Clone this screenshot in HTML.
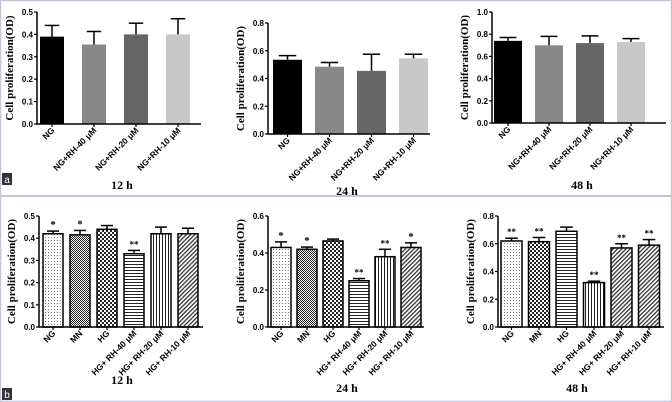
<!DOCTYPE html>
<html><head><meta charset="utf-8"><style>
html,body{margin:0;padding:0;background:#fff;}
svg{display:block;font-family:"Liberation Serif",serif;}
</style></head><body>
<svg id="fig" width="672" height="402" viewBox="0 0 672 402" xmlns="http://www.w3.org/2000/svg">
<defs>
<pattern id="p-dots" width="3" height="3" patternUnits="userSpaceOnUse"><rect width="3" height="3" fill="#fff"/><rect width="1" height="1" fill="#777"/></pattern>
<pattern id="p-check" width="2" height="2" patternUnits="userSpaceOnUse"><rect width="2" height="2" fill="#fff"/><rect width="1" height="1" fill="#222"/><rect x="1" y="1" width="1" height="1" fill="#222"/></pattern>
<pattern id="p-bigcheck" width="4" height="4" patternUnits="userSpaceOnUse"><rect width="4" height="4" fill="#fff"/><rect width="2" height="2" fill="#222"/><rect x="2" y="2" width="2" height="2" fill="#222"/></pattern>
<pattern id="p-hline" width="4" height="3" patternUnits="userSpaceOnUse"><rect width="4" height="3" fill="#fff"/><rect width="4" height="1" fill="#222"/></pattern>
<pattern id="p-vline" width="3" height="4" patternUnits="userSpaceOnUse"><rect width="3" height="4" fill="#fff"/><rect width="1" height="4" fill="#222"/></pattern>
<pattern id="p-diag" width="3" height="3" patternUnits="userSpaceOnUse" patternTransform="rotate(45)"><rect width="3" height="3" fill="#fff"/><rect width="1.3" height="3" fill="#333"/></pattern>
</defs>
<rect x="0.5" y="0.5" width="671" height="401" fill="none" stroke="#c4c6d6" stroke-width="1.5"/>
<line x1="0" y1="196" x2="672" y2="196" stroke="#c4c6d6" stroke-width="2"/>
<g><rect x="2" y="173" width="10" height="12" fill="#333"/><text x="7" y="183" fill="#fff" font-family="Liberation Sans,sans-serif" font-size="10" text-anchor="middle">a</text></g>
<g><rect x="2" y="388" width="10" height="12" fill="#333"/><text x="7" y="398" fill="#fff" font-family="Liberation Sans,sans-serif" font-size="10" text-anchor="middle">b</text></g>
</svg>
<script>
const catsA = ["NG","NG+RH-40 μM","NG+RH-20 μM","NG+RH-10 μM"];
const catsB = ["NG","MN","HG","HG+ RH-40 μM","HG+ RH-20 μM","HG+ RH-10 μM"];
const a12Vals = [0.39,0.355,0.40,0.40];
const a12Err = [0.05,0.058,0.05,0.07];
const a24Vals = [0.535,0.485,0.455,0.545];
const a24Err = [0.03,0.03,0.12,0.03];
const a48Vals = [0.74,0.70,0.72,0.73];
const a48Err = [0.03,0.08,0.065,0.03];
const b12Vals = [0.42,0.415,0.44,0.33,0.42,0.42];
const b12Err = [0.012,0.02,0.017,0.015,0.03,0.025];
const b12Stars = ["*","*","","**","",""];
const b24Vals = [0.43,0.42,0.465,0.25,0.38,0.43];
const b24Err = [0.03,0.012,0.01,0.012,0.04,0.025];
const b24Stars = ["*","*","","**","**","*"];
const b48Vals = [0.62,0.615,0.69,0.32,0.57,0.59];
const b48Err = [0.02,0.03,0.03,0.01,0.03,0.04];
const b48Stars = ["**","**","","**","**","**"];
const ticks05 = [0,0.1,0.2,0.3,0.4,0.5];
const ticks08 = [0,0.2,0.4,0.6,0.8];
const ticks10 = [0,0.2,0.4,0.6,0.8,1.0];
const ticks06 = [0,0.2,0.4,0.6];

const fillsA = ["#000","#888","#666","#c8c8c8"];
const fillsB12 = ["url(#p-dots)","url(#p-check)","url(#p-bigcheck)","url(#p-hline)","url(#p-vline)","url(#p-diag)"];
const fillsB48 = ["url(#p-dots)","url(#p-bigcheck)","url(#p-hline)","url(#p-vline)","url(#p-diag)","url(#p-diag)"];

const NS="http://www.w3.org/2000/svg";
const svg=document.getElementById('fig');
function mk(tag,attrs,parent){const e=document.createElementNS(NS,tag);for(const k in attrs)e.setAttribute(k,attrs[k]);(parent||svg).appendChild(e);return e;}

function panel(cfg){
  const g=mk('g',{});
  
  
  const ymax=cfg.ticks[cfg.ticks.length-1];
  const y=v=>cfg.bottom-(v/ymax)*(cfg.bottom-cfg.top);
  const x=i=>cfg.x0+cfg.gap+i*cfg.step;
  cfg.vals.forEach((v,i)=>{
    const bx=x(i), by=y(v);
    const top=y(v+cfg.err[i]);
    const el=mk('line',{x1:bx+cfg.bw/2,x2:bx+cfg.bw/2,y1:by,y2:top,stroke:'#000','stroke-width':1.5},g);
    
    
    const cap=mk('line',{x1:bx+cfg.bw/2-cfg.bw*0.3,x2:bx+cfg.bw/2+cfg.bw*0.3,y1:top,y2:top,stroke:'#000','stroke-width':1.5},g);
    
    
    const r=mk('rect',{x:bx,y:by,width:cfg.bw,height:cfg.bottom-by,fill:cfg.fills[i],stroke:cfg.outline?'#000':'none','stroke-width':1.5},g);
    
    
    if(cfg.stars&&cfg.stars[i]){
      const s=mk('text',{x:bx+cfg.bw/2,y:top-3,'font-size':cfg.stars[i]=="*"?11:9,'font-weight':'bold','text-anchor':'middle'},g);
      s.textContent=cfg.stars[i];
      
      
    }
    const lx=bx+cfg.bw/2+3, ly=cfg.bottom+7;
    const t=mk('text',{x:lx,y:ly,'font-size':8.5,'font-weight':'bold','font-family':'Liberation Sans,sans-serif','text-anchor':'end',transform:`rotate(-45 ${lx} ${ly})`},g);
    t.textContent=cfg.cats[i];
    
    
  });
  const ax=mk('path',{d:`M${cfg.x0},${cfg.top}V${cfg.bottom}H${cfg.xend}`,fill:'none',stroke:'#000','stroke-width':1.5},g);
  
  
  cfg.ticks.forEach(v=>{
    mk('line',{x1:cfg.x0-3,x2:cfg.x0,y1:y(v),y2:y(v),stroke:'#000','stroke-width':1.2},g);
    const t=mk('text',{x:cfg.x0-4,y:y(v)+3,'font-size':8,'font-weight':'bold','font-family':'Liberation Sans,sans-serif','text-anchor':'end'},g);
    t.textContent=v.toFixed(1);
    
    
  });
  cfg.vals.forEach((v,i)=>{const cx=x(i)+cfg.bw/2;mk('line',{x1:cx,x2:cx,y1:cfg.bottom,y2:cfg.bottom+3,stroke:'#000','stroke-width':1.2},g);});
  const yc=(cfg.top+cfg.bottom)/2, tx=cfg.x0-24;
  const yt=mk('text',{x:tx,y:yc,'font-size':11,'font-weight':'bold','text-anchor':'middle',transform:`rotate(-90 ${tx} ${yc})`},g);
  yt.textContent='Cell proliferation(OD)';
  
  
  const xt=mk('text',{x:cfg.tx,y:cfg.ty,'font-size':12,'font-weight':'bold','text-anchor':'middle'},g);
  xt.textContent=cfg.title;
  
  
}
panel({name:'chart-a-12h',cats:catsA,vals:a12Vals,err:a12Err,ticks:ticks05,fills:fillsA,x0:37,xend:201,top:12,bottom:124,gap:3,bw:24,step:42,tx:122,ty:189,title:'12 h'});
panel({name:'chart-a-24h',cats:catsA,vals:a24Vals,err:a24Err,ticks:ticks08,fills:fillsA,x0:268,xend:430,top:23,bottom:134,gap:5,bw:29,step:42,tx:347,ty:195,title:'24 h'});
panel({name:'chart-a-48h',cats:catsA,vals:a48Vals,err:a48Err,ticks:ticks10,fills:fillsA,x0:492,xend:666,top:12,bottom:123,gap:2,bw:28,step:41,tx:582,ty:189,title:'48 h'});
panel({name:'chart-b-12h',cats:catsB,vals:b12Vals,err:b12Err,stars:b12Stars,ticks:ticks05,fills:fillsB12,outline:true,x0:39,xend:203,top:216,bottom:327,gap:4,bw:20,step:27,tx:122,ty:384,title:'12 h'});
panel({name:'chart-b-24h',cats:catsB,vals:b24Vals,err:b24Err,stars:b24Stars,ticks:ticks06,fills:fillsB12,outline:true,x0:268,xend:424,top:216,bottom:327,gap:3,bw:20,step:26,tx:347,ty:392,title:'24 h'});
panel({name:'chart-b-48h',cats:catsB,vals:b48Vals,err:b48Err,stars:b48Stars,ticks:ticks08,fills:fillsB48,outline:true,x0:498,xend:664,top:216,bottom:327,gap:3,bw:21,step:27.5,tx:577,ty:392,title:'48 h'});
</script>
</body></html>
